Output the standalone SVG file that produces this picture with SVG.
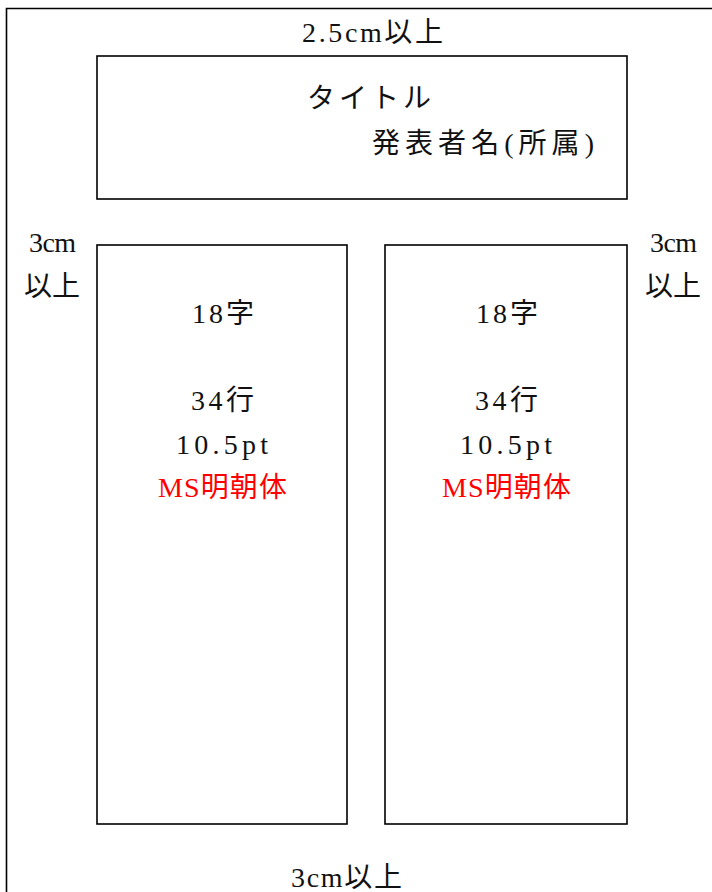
<svg xmlns="http://www.w3.org/2000/svg" width="712" height="892" viewBox="0 0 712 892">
<style>
.t{font-family:"Liberation Serif","Noto Sans CJK JP",serif;font-size:28px;fill:#111}
.c{text-anchor:middle}
.r{fill:#ff0000}
.b{fill:none;stroke:#000;stroke-width:1.6}
</style>
<rect width="712" height="892" fill="#fff"/>
<g id="page">
<path class="b" d="M6.5,892 V8.5 H712" stroke-width="2"/>
</g>
<g id="margin-labels">
<text class="t" x="302" y="42" textLength="141" lengthAdjust="spacing">2.5cm以上</text>
<text class="t" x="29" y="252" textLength="47" lengthAdjust="spacing">3cm</text>
<text class="t c" x="52" y="296">以上</text>
<text class="t" x="650" y="252" textLength="47" lengthAdjust="spacing">3cm</text>
<text class="t c" x="673" y="296">以上</text>
<text class="t" x="291" y="887" textLength="111" lengthAdjust="spacing">3cm以上</text>
</g>
<g id="title-box">
<rect class="b" x="97" y="56" width="530" height="143"/>
<text class="t" x="307" y="108" font-size="30" textLength="124" lengthAdjust="spacing">タイトル</text>
<text class="t" x="372" y="153" font-size="30" textLength="222" lengthAdjust="spacing">発表者名(所属)</text>
</g>
<g id="left-column">
<rect class="b" x="97" y="245" width="250" height="579"/>
<text class="t" x="192" y="323" textLength="62" lengthAdjust="spacing">18字</text>
<text class="t" x="191" y="410" textLength="63" lengthAdjust="spacing">34行</text>
<text class="t" x="176" y="454" textLength="92" lengthAdjust="spacing">10.5pt</text>
<text class="t r" x="158" y="497" textLength="129" lengthAdjust="spacing">MS明朝体</text>
</g>
<g id="right-column">
<rect class="b" x="385" y="245" width="242" height="579"/>
<text class="t" x="476" y="323" textLength="62" lengthAdjust="spacing">18字</text>
<text class="t" x="475" y="410" textLength="63" lengthAdjust="spacing">34行</text>
<text class="t" x="460" y="454" textLength="92" lengthAdjust="spacing">10.5pt</text>
<text class="t r" x="442" y="497" textLength="129" lengthAdjust="spacing">MS明朝体</text>
</g>
</svg>
